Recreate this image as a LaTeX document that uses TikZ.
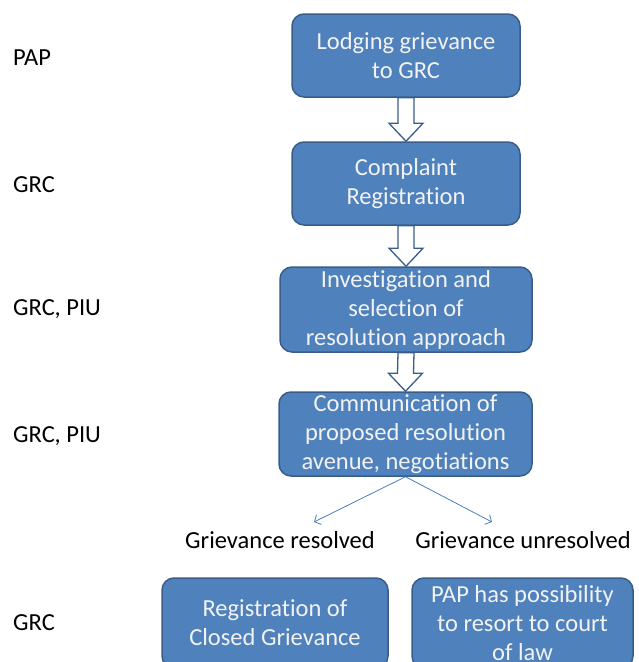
\documentclass[tikz,border=0pt]{standalone}
\usepackage{fontspec}
\setmainfont{Carlito}[Ligatures=NoCommon]
\usetikzlibrary{arrows.meta,calc}
\definecolor{boxblue}{HTML}{4F81BD}
\definecolor{boxline}{HTML}{385D8A}
\definecolor{arrowblue}{HTML}{4A7EBB}
\definecolor{boxtext}{HTML}{F2F2F2}
\tikzset{
  stepbox/.style={draw=boxline,line width=1.5pt,fill=boxblue,rounded corners=12pt,
    text=boxtext,align=center,inner sep=0pt},
  role/.style={anchor=west,inner sep=0pt},
  fatarrow/.style={draw=boxline,fill=white,line width=1.3pt,line join=miter},
  outcome/.style={draw=arrowblue,line width=0.8pt,-{Straight Barb[length=5pt,width=11pt]}},
}
% hollow block arrow from the bottom of #1 to the top of #2
\newcommand{\blockarrow}[2]{%
  \draw[fatarrow] ($(#1.south)+(-8,0)$) -- ($(#2.north)+(-8,-18)$) -- ($(#2.north)+(-17,-18)$)
    -- (#2.north) -- ($(#2.north)+(17,-18)$) -- ($(#2.north)+(8,-18)$) -- ($(#1.south)+(8,0)$) -- cycle;}
\begin{document}
\begin{tikzpicture}[x=1pt,y=-1pt,font=\fontsize{24.5}{29}\selectfont]
\useasboundingbox (0,0) rectangle (639,662);
% the steps
\node[stepbox,minimum width=228pt,minimum height=83pt] (lodge) at (406,55.5) {Lodging grievance\\to GRC};
\node[stepbox,minimum width=228pt,minimum height=83pt] (register) at (406,183.5) {Complaint\\Registration};
\node[stepbox,minimum width=252pt,minimum height=85pt] (investigate) at (406,309.5) {Investigation and\\selection of\\resolution approach};
\node[stepbox,minimum width=253pt,minimum height=84pt] (communicate) at (405.5,434) {Communication of\\proposed resolution\\avenue, negotiations};
\node[stepbox,minimum width=226pt,minimum height=90pt] (closed) at (275,623) {Registration of\\Closed Grievance};
\node[stepbox,minimum width=221pt,minimum height=90pt] (court) at (522.5,623) {PAP has possibility\\to resort to court\\of law};
\blockarrow{lodge}{register}
\blockarrow{register}{investigate}
\blockarrow{investigate}{communicate}
% the two outcomes
\node (resolved) at (280,540) {Grievance resolved};
\node (unresolved) at (523,540) {Grievance unresolved};
\coordinate (resolvedTip) at (314,522);
\coordinate (unresolvedTip) at (492,522);
\draw[outcome] (communicate.south) -- (resolvedTip);
\draw[outcome] (communicate.south) -- (unresolvedTip);
% who is responsible
\node[role] (who1) at (13,58) {PAP};
\node[role] (who2) at (13,185) {GRC};
\node[role] (who3) at (13,309) {GRC, PIU};
\node[role] (who4) at (13,436) {GRC, PIU};
\node[role] (who5) at (13,623) {GRC};
\end{tikzpicture}
\end{document}
